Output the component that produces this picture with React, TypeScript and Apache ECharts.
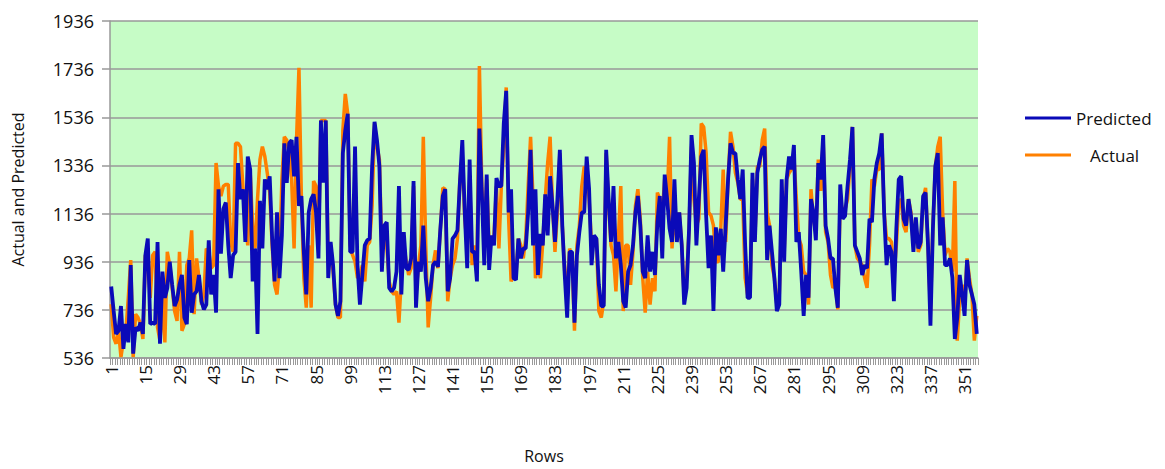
import React, { useEffect, useRef } from "react";
import * as echarts from "echarts";

const predicted: number[] = [
  833,731,636,649,752,574,677,601,922,554,663,649,683,636,963,1032,677,683,677,1018,595,895,786,827,936,840,752,779,840,881,704,677,943,724,800,813,881,772,
  738,758,1025,800,881,724,1237,970,1155,1182,1004,868,963,977,1346,1196,1237,1018,1373,1319,854,991,636,1189,991,1278,1237,1291,1032,854,1141,868,1045,1428,1264,1428,1441,1291,1455,1168,
  1209,977,800,1141,1196,1216,1141,950,1523,1264,1523,868,1018,922,758,711,772,1387,1482,1551,977,977,1414,922,758,881,1004,1025,1032,1332,1517,1441,1332,895,1086,1100,827,813,827,895,
  1250,800,1059,909,902,950,1271,745,936,895,1086,868,772,827,922,936,915,1073,1209,1237,813,868,1032,1045,1066,1264,1441,1141,909,1360,977,977,854,1489,1223,922,1298,902,1045,1004,1284,
  1250,1250,1510,1646,1141,1237,868,861,1032,950,991,991,1141,1401,1004,1237,881,1052,1004,1216,1045,1291,1168,1018,1196,1401,1086,881,704,977,977,683,963,1059,1141,1141,1373,1237,922,1045,
  1032,840,752,752,1401,1196,1018,1250,950,1018,922,772,745,895,922,1004,1141,1209,1086,895,868,1045,895,977,881,1100,1209,950,1298,1196,1073,1018,1278,1018,1141,1004,758,827,1073,1462,
  1346,1004,1196,1373,1401,1127,909,1045,731,1079,963,1073,895,1086,1278,1428,1387,1387,1278,1196,1319,1004,786,786,1305,1018,1305,1360,1401,1414,943,1086,977,868,731,758,1278,936,1278,1373,
  1319,1421,1018,1059,895,711,881,786,1196,1141,1025,1346,1278,1462,1086,1032,950,950,827,745,1257,1114,1127,1250,1360,1496,1004,977,950,881,922,909,1114,1100,1278,1346,1387,1469,1141,922,
  1004,977,772,1073,1278,1291,1114,1086,1196,1127,977,1120,991,1018,1209,1223,1004,670,1073,1332,1387,1004,1120,922,922,950,868,615,704,881,800,711,943,840,800,758,636,
];

const actual: number[] = [
  760,622,595,650,540,608,649,786,943,540,718,704,677,615,963,950,786,963,977,663,608,786,601,977,922,827,731,690,977,649,677,922,950,1066,718,950,868,758,
  800,991,977,909,922,1346,1250,1209,1250,1257,1257,1018,977,1428,1428,1414,1250,1100,1004,1305,1086,991,1196,1360,1414,1373,1305,1223,1004,840,800,922,1278,1455,1441,1387,1278,991,1441,1742,
  1200,868,745,1004,745,1271,1250,1004,1523,1523,1523,936,1004,895,758,704,704,1482,1633,1551,1004,963,936,868,881,922,854,1004,1018,1168,1510,1414,1360,977,1086,1004,854,813,800,813,
  683,868,1004,936,881,909,1250,800,922,1004,1455,1004,663,786,922,983,909,1073,1243,1237,772,868,922,950,1032,1278,1373,1114,1004,1278,922,1004,895,1749,1250,1032,1278,1004,1032,1045,1250,
  991,1250,1414,1660,1114,854,881,881,1032,1004,950,1032,1250,1455,1196,868,922,868,1018,1196,1346,1455,1168,977,1141,1387,1086,895,813,991,950,649,1004,1086,1250,1332,1305,1196,1004,1032,
  1032,731,704,772,1387,1168,1004,963,813,1032,1250,731,1004,1004,840,977,1168,1237,1114,868,724,895,758,868,813,1223,1196,1141,1278,1196,1455,991,1141,1032,1141,1004,786,868,1073,1414,
  1196,1086,1114,1510,1496,1387,1141,1127,1086,936,936,1073,1319,1018,1278,1476,1414,1305,1264,1196,1196,868,800,813,1278,1032,1332,1332,1441,1489,1141,1086,922,868,758,800,1141,977,1278,1305,
  1319,1373,1196,1032,1004,895,881,758,1237,1114,1059,1360,1230,1441,1059,1018,881,827,841,738,1196,1141,1155,1196,1332,1496,1004,950,936,922,868,827,1004,1278,1250,1319,1319,1469,1141,1032,
  1032,1018,868,1004,1182,1196,1086,1059,1196,1141,1004,1086,977,1004,1196,1243,1004,731,1086,1332,1414,1455,1141,963,991,977,895,1271,608,786,840,758,950,868,800,608,711,
];

const rows: string[] = predicted.map((_, i) => String(i + 1));

const Y_MIN = 536;
const Y_MAX = 1936;
const Y_STEP = 200;

const FONT = "'Open Sans', 'Noto Sans', sans-serif";

export default function App() {
  const ref = useRef<HTMLDivElement>(null);

  useEffect(() => {
    document.body.style.margin = "0";
    if (!ref.current) return;
    const chart = echarts.init(ref.current, undefined, { renderer: "svg" });
    chart.setOption({
      animation: false,
      backgroundColor: "#ffffff",
      textStyle: { fontFamily: FONT },
      grid: {
        left: 110,
        right: 187,
        top: 21,
        bottom: 106,
        show: true,
        backgroundColor: "#c6fcc6",
        borderWidth: 0,
      },
      legend: {
        orient: "vertical",
        left: 1020,
        top: 103,
        itemWidth: 46,
        itemHeight: 3,
        itemGap: 17,
        icon: "rect",
        textStyle: { fontFamily: FONT, fontSize: 17, color: "#111", lineHeight: 20 },
        data: [
          { name: "Predicted", itemStyle: { color: "#0a0ab8" } },
          {
            name: "Actual",
            itemStyle: { color: "#ff8000" },
            textStyle: { padding: [0, 0, 0, 14] },
          },
        ],
      },
      xAxis: {
        type: "category",
        data: rows,
        boundaryGap: true,
        name: "Rows",
        nameLocation: "middle",
        nameGap: 90,
        nameTextStyle: { fontFamily: FONT, fontSize: 16, color: "#111", lineHeight: 16 },
        axisLine: { show: true, lineStyle: { color: "#999999", width: 1.5 } },
        axisTick: { show: true, interval: 0, length: 7, lineStyle: { color: "#999999", width: 1 } },
        axisLabel: {
          interval: 13,
          rotate: 90,
          fontFamily: FONT,
          fontSize: 17,
          color: "#111",
          margin: 7,
        },
        splitLine: { show: false },
      },
      yAxis: {
        type: "value",
        min: Y_MIN,
        max: Y_MAX,
        interval: Y_STEP,
        name: "Actual and Predicted",
        nameLocation: "middle",
        nameGap: 84,
        nameTextStyle: { fontFamily: FONT, fontSize: 16, color: "#111" },
        axisLine: { show: true, lineStyle: { color: "#999999", width: 1.5 } },
        axisTick: { show: true, length: 8, lineStyle: { color: "#999999", width: 1.5 } },
        axisLabel: {
          fontFamily: FONT,
          fontSize: 18,
          color: "#111",
          margin: 16,
          formatter: (v: number) => String(v),
        },
        splitLine: { show: true, lineStyle: { color: "#999999", width: 1.5 } },
      },
      series: [
        {
          name: "Actual",
          type: "line",
          data: actual,
          symbol: "none",
          lineStyle: { color: "#ff8000", width: 3.5 },
          itemStyle: { color: "#ff8000" },
        },
        {
          name: "Predicted",
          type: "line",
          data: predicted,
          symbol: "none",
          lineStyle: { color: "#0a0ab8", width: 3.8 },
          itemStyle: { color: "#0a0ab8" },
        },
      ],
    });
    return () => chart.dispose();
  }, []);

  return <div ref={ref} style={{ width: 1165, height: 469 }} />;
}
